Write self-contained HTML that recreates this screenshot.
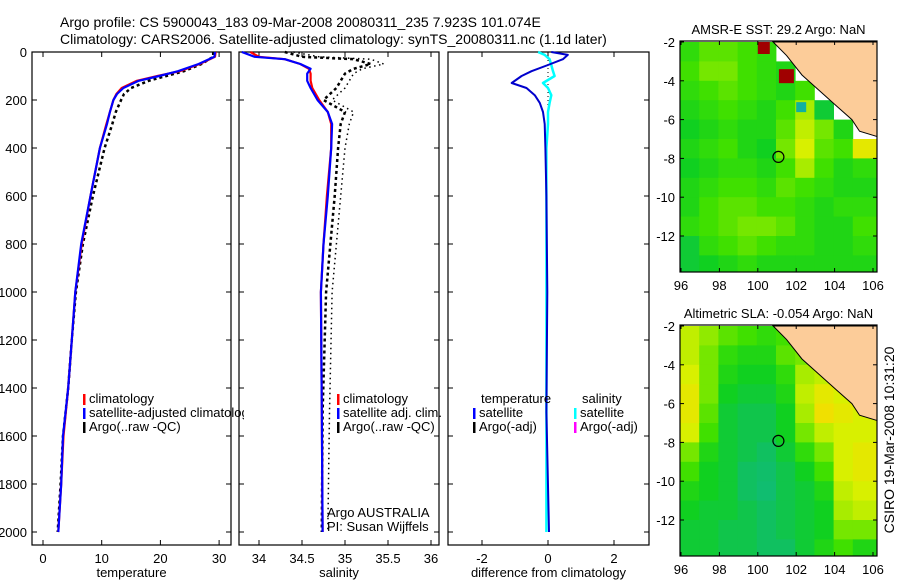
<!DOCTYPE html>
<html><head><meta charset="utf-8">
<style>
html,body{margin:0;padding:0;background:#fff;}
svg{display:block;font-family:"Liberation Sans",sans-serif;}
</style></head>
<body>
<svg id="chart" width="900" height="580" viewBox="0 0 900 580" xmlns="http://www.w3.org/2000/svg">
<text x="60" y="27" font-size="14">Argo profile: CS 5900043_183 09-Mar-2008 20080311_235 7.923S 101.074E</text>
<text x="60" y="44" font-size="14">Climatology: CARS2006. Satellite-adjusted climatology: synTS_20080311.nc (1.1d later)</text>
<g id="g"></g>
<text transform="translate(894,440) rotate(-90)" font-size="14" text-anchor="middle">CSIRO 19-Mar-2008 10:31:20</text>
</svg>
<script>
// ---- profile data ----
const depthT = [0,20,50,80,100,120,150,175,200,250,300,400,600,800,1000,1200,1400,1600,1800,2000];
const tempClim = [29.4,29.3,26.7,23.3,19.5,16.0,13.4,12.5,12.0,11.4,10.8,9.7,8.1,6.6,5.5,4.9,4.3,3.5,3.1,2.6];
const tempSat  = [29.3,29.2,26.5,23.0,19.8,16.3,13.7,12.6,12.0,11.4,10.9,9.7,8.1,6.5,5.5,4.9,4.3,3.4,3.1,2.6];
const tempArgo = [29.0,29.0,27.0,24.0,21.0,18.0,15.0,13.8,13.3,12.4,11.8,10.5,8.5,6.8,5.6,4.9,4.3,3.4,3.0,2.5];
const depthS = [0,20,30,50,70,90,120,150,200,250,300,400,600,800,1000,1500,2000];
const salClim = [33.9,34.0,34.3,34.48,34.58,34.6,34.6,34.62,34.7,34.8,34.84,34.84,34.79,34.75,34.72,34.73,34.74];
const salSat  = [33.8,33.95,34.3,34.48,34.6,34.56,34.56,34.6,34.68,34.8,34.85,34.84,34.8,34.75,34.72,34.73,34.74];
const salArgo = [34.3,34.5,35.1,35.3,35.1,35.0,34.95,34.9,34.75,35.0,34.95,34.92,34.88,34.83,34.78,34.74,34.73];
const salArgoRaw = [34.4,34.7,35.3,35.45,35.2,35.1,35.05,35.0,34.85,35.1,35.05,35.0,34.95,34.9,34.85,34.82,34.8];
const depthD = [0,12,30,54,80,100,129,150,180,212,250,300,400,600,1000,1500,2000];
const diffTempSat = [0.1,0.6,0.45,0.0,-0.5,-0.8,-1.1,-0.65,-0.4,-0.25,-0.15,-0.1,-0.08,-0.05,-0.02,-0.05,0.03];
const diffSalSat  = [-0.3,-0.1,0.05,0.1,0.15,0.2,-0.15,0.0,0.1,0.05,0.0,0.0,-0.05,-0.05,-0.05,-0.05,-0.05];
// ---- tick labels ----
const depthTicks = [0,200,400,600,800,1000,1200,1400,1600,1800,2000];
const tempTicks = [0,10,20,30];
const salTicks = [34,34.5,35,35.5,36];
const diffTicks = [-2,0,2];
const latTicks = [-2,-4,-6,-8,-10,-12];
const lonTicks = [96,98,100,102,104,106];
// ---- map grids (rows lat -2..-14, cols lon 96..106), null = no data ----
const sstGrid = [
[.45,.55,.55,.5,.45,null,null,null,null,null],
[.5,.6,.6,.5,.45,.4,null,null,null,null],
[.45,.5,.55,.5,.45,.4,.5,null,null,null],
[.4,.45,.5,.45,.4,.5,.7,.3,null,null],
[.35,.4,.45,.4,.4,.55,.75,.6,.4,null],
[.4,.45,.5,.4,.35,.6,.8,.55,.5,.85],
[.35,.4,.45,.45,.4,.5,.7,.5,.4,.45],
[.4,.45,.5,.5,.45,.55,.5,.45,.4,.4],
[.4,.5,.55,.55,.5,.5,.45,.4,.45,.45],
[.45,.5,.55,.6,.6,.55,.45,.4,.4,.5],
[.3,.45,.5,.55,.5,.45,.45,.4,.4,.45],
[.3,.35,.4,.45,.4,.4,.4,.4,.4,.4]];
const slaGrid = [
[.75,.65,.55,.5,.45,.5,null,null,null,null],
[.75,.6,.45,.4,.4,.55,.6,null,null,null],
[.8,.6,.4,.35,.35,.45,.7,.75,null,null],
[.85,.6,.35,.3,.3,.4,.75,.85,.8,null],
[.85,.55,.3,.25,.25,.35,.7,.9,.85,.8],
[.8,.5,.3,.25,.25,.35,.6,.75,.8,.8],
[.6,.4,.3,.25,.2,.3,.45,.6,.8,.85],
[.5,.35,.3,.2,.15,.25,.35,.5,.8,.85],
[.4,.35,.3,.2,.12,.25,.3,.4,.75,.8],
[.35,.3,.3,.25,.2,.25,.3,.35,.7,.75],
[.3,.3,.25,.25,.2,.25,.3,.35,.6,.6],
[.3,.3,.25,.25,.2,.2,.3,.4,.5,.4]];
const landLon = [100.8,101.5,102.3,103.2,104.1,104.9,105.3,106.3,106.3];
const landLat = [-2,-2.7,-3.7,-4.5,-5.3,-6.0,-6.6,-6.9,-2];
const argoLon = 101.074, argoLat = -7.923;

const NS='http://www.w3.org/2000/svg';
const G=document.getElementById('g');
function mk(tag,attrs,parent){const e=document.createElementNS(NS,tag);for(const k in attrs)e.setAttribute(k,attrs[k]);(parent||G).appendChild(e);return e;}
function txt(x,y,s,size,anchor,parent){const t=mk('text',{x:x,y:y,'font-size':size,'text-anchor':anchor||'start'},parent);t.textContent=s;return t;}

const yD = d => 52 + d*0.24;
const xT = t => 43 + t*5.87;
const xS = s => 259 + (s-34)*86;
const xDf = v => 548 + v*33;

function panel(name,x0,x1,ticks,xf,fmt,label){
  const g=mk('g',{});
  
  
  const r=mk('rect',{x:x0,y:52,width:x1-x0,height:545-52,fill:'none',stroke:'#000','stroke-width':1.2},g);
  
  
  ticks.forEach(v=>{const x=xf(v);
    mk('line',{x1:x,y1:545,x2:x,y2:540,stroke:'#000'},g);
    mk('line',{x1:x,y1:52,x2:x,y2:57,stroke:'#000'},g);
    const t=txt(x,563,fmt(v),13,'middle',g);
    
    });
  depthTicks.forEach(d=>{const y=yD(d);
    mk('line',{x1:x0,y1:y,x2:x0+5,y2:y,stroke:'#000'},g);
    mk('line',{x1:x1,y1:y,x2:x1-5,y2:y,stroke:'#000'},g);});
  const l=txt((x0+x1)/2,577,label,13,'middle',g);
  
  
  return g;
}
function line(g,xs,ds,xf,color,w,dash,name){
  const pts=xs.map((v,i)=>xf(v).toFixed(1)+','+yD(ds[i]).toFixed(1)).join(' ');
  const p=mk('polyline',{points:pts,fill:'none',stroke:color,'stroke-width':w,'stroke-linejoin':'round'},g);
  if(dash)p.setAttribute('stroke-dasharray',dash);
  
  
}
function legend(g,x,y,color,label,name){
  mk('rect',{x:x,y:y-9,width:2.5,height:11,fill:color},g);
  const t=txt(x+6,y,label,13,'start',g);
  
  
}

depthTicks.forEach(d=>{const t=txt(27,yD(d)+5,String(d),13,'end');
  
  });

const p1=panel('temperature-panel',32,231,tempTicks,xT,v=>String(v),'temperature');
line(p1,tempArgo,depthT,xT,'#000',2.5,'3,3','argo-temperature-line');
line(p1,tempClim,depthT,xT,'#f00',2.2,null,'climatology-temperature-line');
line(p1,tempSat,depthT,xT,'#00f',2.2,null,'satellite-temperature-line');
const c1=mk('clipPath',{id:'c1'});mk('rect',{x:32,y:0,width:212,height:580},c1);
const lg1=mk('g',{'clip-path':'url(#c1)'},p1);


legend(lg1,83,403,'#f00','climatology','legend-climatology');
legend(lg1,83,417,'#00f','satellite-adjusted climatology','legend-satellite-adjusted');
legend(lg1,83,431,'#000','Argo(..raw -QC)','legend-argo');

const p2=panel('salinity-panel',239,439,salTicks,xS,v=>String(v),'salinity');
line(p2,salArgoRaw,depthS,xS,'#000',1.5,'1.5,3.5','argo-raw-salinity-line');
line(p2,salArgo,depthS,xS,'#000',2.5,'3,3','argo-salinity-line');
line(p2,salClim,depthS,xS,'#f00',2.2,null,'climatology-salinity-line');
line(p2,salSat,depthS,xS,'#00f',2.2,null,'satellite-salinity-line');
legend(p2,337,403,'#f00','climatology','legend-climatology-sal');
legend(p2,337,417,'#00f','satellite adj. clim.','legend-satellite-sal');
legend(p2,337,431,'#000','Argo(..raw -QC)','legend-argo-sal');
let t1=txt(327,517,'Argo AUSTRALIA',13,'start',p2);

let t2=txt(327,531,'PI: Susan Wijffels',13,'start',p2);


const p3=panel('difference-panel',448,649,diffTicks,xDf,v=>String(v),'difference from climatology');
mk('line',{x1:xDf(0),y1:60,x2:xDf(0),y2:110,stroke:'#000','stroke-dasharray':'1,3'},p3);
line(p3,diffSalSat,depthD,xDf,'#0ff',2.5,null,'salinity-difference-line');
line(p3,diffTempSat,depthD,xDf,'#00c',2,null,'temperature-difference-line');
let h1=txt(481,403,'temperature',13,'start',p3);
let h2=txt(582,403,'salinity',13,'start',p3);
legend(p3,473,417,'#00f','satellite','legend-temp-satellite');
legend(p3,473,431,'#000','Argo(-adj)','legend-temp-argo');
legend(p3,574,417,'#0ff','satellite','legend-sal-satellite');
legend(p3,574,431,'#f0f','Argo(-adj)','legend-sal-argo');

const stops=[[0,[16,184,136]],[0.2,[16,192,96]],[0.35,[16,208,32]],[0.5,[64,224,0]],[0.65,[144,234,0]],[0.8,[216,240,0]],[0.9,[240,224,0]],[1,[255,160,0]]];
function cmap(v){for(let i=1;i<stops.length;i++){if(v<=stops[i][0]){const a=stops[i-1],b=stops[i],f=(v-a[0])/(b[0]-a[0]);const c=a[1].map((x,k)=>Math.round(x+(b[1][k]-x)*f));return 'rgb('+c.join(',')+')';}}return 'rgb(255,160,0)';}

function map(name,title,top,grid,extra){
  const bot=top+231, L=680, R=877;
  const lx=lon=>681+(lon-96)*19.2, ly=lat=>top+1+(-2-lat)*19.4;
  const g=mk('g',{});
  
  
  const cp=mk('clipPath',{id:name+'-clip'});mk('rect',{x:L,y:top,width:R-L,height:bot-top},cp);
  const cg=mk('g',{'clip-path':'url(#'+name+'-clip)'},g);
  mk('rect',{x:L,y:top,width:R-L,height:bot-top,fill:'#fff'},cg);
  grid.forEach((row,j)=>row.forEach((v,i)=>{if(v===null)return;
    const c=mk('rect',{x:lx(96+i)-1,y:ly(-2-j),width:(i==row.length-1?25:19.6),height:19.8,fill:cmap(v)},cg);
    
    }));
  if(extra)extra(cg,lx,ly);
  const land=mk('polygon',{points:landLon.map((lo,i)=>lx(lo)+','+ly(landLat[i])).join(' '),fill:'#fccc99',stroke:'#000','stroke-width':1},cg);
  
  
  const circ=mk('circle',{cx:lx(argoLon),cy:ly(argoLat),r:5.5,fill:'none',stroke:'#000','stroke-width':1.2},g);
  
  
  mk('rect',{x:L,y:top,width:R-L,height:bot-top,fill:'none',stroke:'#000','stroke-width':1.2},g);
  latTicks.forEach(v=>{const y=ly(v);mk('line',{x1:L,y1:y,x2:L+4,y2:y,stroke:'#000'},g);mk('line',{x1:R,y1:y,x2:R-4,y2:y,stroke:'#000'},g);
    const t=txt(L-5,y+5,String(v),13,'end',g);});
  lonTicks.forEach(v=>{const x=lx(v);mk('line',{x1:x,y1:bot,x2:x,y2:bot-4,stroke:'#000'},g);mk('line',{x1:x,y1:top,x2:x,y2:top+4,stroke:'#000'},g);
    const t=txt(x,bot+18,String(v),13,'middle',g);});
  const tt=txt((L+R)/2,top-7,title,13,'middle',g);
  
}
map('sst-map','AMSR-E SST: 29.2 Argo: NaN',41,sstGrid,(cg,lx,ly)=>{
  mk('rect',{x:lx(100),y:ly(-2),width:12,height:12,fill:'#a00000'},cg);
  mk('rect',{x:lx(101.1),y:ly(-3.4),width:15,height:14,fill:'#a00000'},cg);
  mk('rect',{x:lx(102),y:ly(-5.1),width:10,height:10,fill:'#10b0a0'},cg);
});
map('sla-map','Altimetric SLA: -0.054 Argo: NaN',325,slaGrid,null);
</script>
</body></html>
